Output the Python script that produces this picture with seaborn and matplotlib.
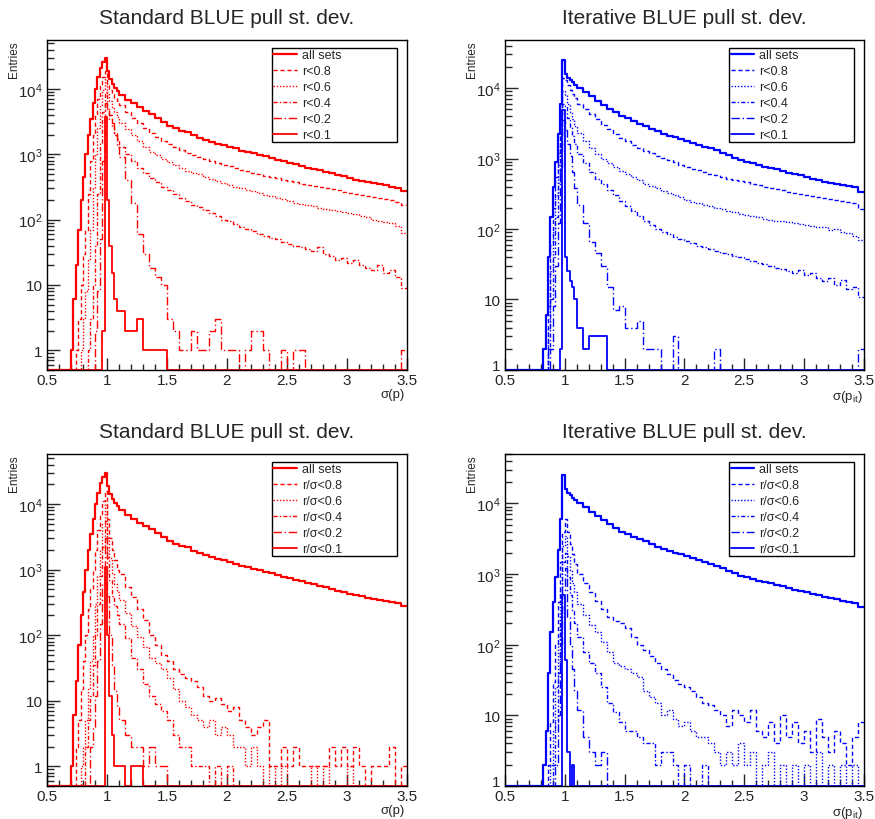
import numpy as np
import seaborn as sns
import matplotlib.pyplot as plt
from matplotlib.lines import Line2D
from matplotlib.ticker import MultipleLocator, LogLocator, FuncFormatter, NullFormatter, FormatStrFormatter

sns.set_style('ticks')
plt.rcParams['font.family'] = ['Liberation Sans', 'DejaVu Sans']
plt.rcParams['mathtext.default'] = 'regular'
plt.rcParams['xtick.top'] = False
plt.rcParams['ytick.right'] = False

# bins: one empty bin below 0.7, 0.02 wide around the peak, 0.05 wide in the tail
bin_edges = np.round(np.concatenate([[0.5], np.linspace(0.70, 1.08, 20), np.linspace(1.10, 3.50, 49)]), 3)

labels_r = ['all sets', 'r<0.8', 'r<0.6', 'r<0.4', 'r<0.2', 'r<0.1']
labels_rs = ['all sets', 'r/σ<0.8', 'r/σ<0.6', 'r/σ<0.4', 'r/σ<0.2', 'r/σ<0.1']

# entries per bin (first value = 0.5-0.7 bin)
std_all = [0] + [1, 6, 20, 70, 200, 450, 1000, 2000, 3500, 6000, 10000, 15000, 21000, 26000, 30000, 19000, 14000, 12000, 10500, 9300] + \
    [8000, 6800, 6000, 5200, 4600, 4100, 3600, 3100, 2750, 2500, 2300, 2200, 1950, 1800, 1680, 1560, 1450, 1380,
     1300, 1230, 1130, 1080, 1040, 990, 930, 880, 830, 780, 740, 700, 660, 620, 600, 570, 540, 510, 480, 460,
     430, 410, 390, 375, 360, 345, 335, 320, 305, 275]
std_r08 = [0] + [0, 0, 1, 3, 10, 30, 70, 250, 800, 2000, 4000, 7000, 11000, 15000, 19000, 12000, 9500, 8300, 7300, 6500] + \
    [5600, 4500, 3600, 3000, 2500, 2150, 1850, 1600, 1450, 1300, 1170, 1060, 980, 900, 840, 780, 730, 680,
     650, 610, 580, 550, 520, 500, 470, 450, 430, 410, 390, 370, 355, 340, 325, 310, 300, 290, 280, 268,
     258, 248, 238, 230, 220, 212, 205, 198, 185, 165]
std_r06 = [0] + [0, 0, 0, 0, 1, 3, 8, 25, 70, 300, 1000, 2500, 5500, 9500, 14000, 8500, 6500, 5300, 4400, 3700] + \
    [3000, 2400, 1950, 1600, 1300, 1100, 960, 850, 760, 680, 610, 560, 520, 490, 450, 420, 390, 360,
     340, 320, 300, 285, 270, 255, 240, 228, 215, 205, 192, 182, 175, 170, 160, 152, 145, 140, 135, 132,
     128, 120, 112, 108, 100, 95, 92, 88, 80, 62]
std_r04 = [0] + [0, 0, 0, 0, 0, 0, 0, 1, 3, 10, 40, 250, 1500, 4500, 9000, 5000, 3500, 2700, 2100, 1700] + \
    [1300, 1000, 780, 620, 510, 430, 370, 320, 280, 245, 215, 190, 170, 155, 140, 125, 112, 100,
     94, 85, 78, 72, 66, 60, 57, 52, 50, 46, 43, 40, 38, 35, 33, 38, 30, 28, 24, 26,
     22, 24, 20, 18, 17, 20, 15, 17, 13, 9]
std_r02 = [0] + [0, 0, 0, 0, 0, 0, 0, 0, 0, 0, 2, 8, 50, 800, 6000, 5000, 4000, 3000, 2000, 1300] + \
    [900, 400, 180, 60, 30, 18, 13, 10, 3, 2, 1, 1, 2, 1, 1, 2, 3, 1,
     1, 1, 0, 1, 2, 2, 1, 0, 0, 1, 0, 1, 1, 0, 0, 0, 0, 0, 0, 0,
     0, 0, 0, 0, 0, 0, 0, 0, 0, 1]
std_r01 = [0] + [0, 0, 0, 0, 0, 0, 0, 0, 0, 0, 0, 0, 0, 2, 3700, 200, 40, 15, 6, 4] + \
    [4, 2, 2, 3, 1, 1, 1, 1] + [0] * 40

it_all = [0] + [0, 0, 0, 0, 0, 0, 2, 6, 40, 150, 400, 900, 2200, 6000, 25000, 16000, 14000, 13000, 12000, 11000] + \
    [10000, 8800, 7600, 6600, 5800, 5100, 4500, 4000, 3700, 3400, 3100, 2900, 2650, 2450, 2250, 2100, 2000, 1900,
     1800, 1680, 1580, 1480, 1400, 1300, 1200, 1120, 1020, 950, 900, 850, 800, 770, 740, 700, 670, 630, 600, 575,
     550, 520, 500, 470, 455, 440, 420, 405, 390, 340]
it_r08 = [0] + [0, 0, 0, 0, 0, 0, 0, 1, 8, 60, 200, 550, 1200, 4000, 14000, 13000, 11000, 9500, 8200, 7200] + \
    [6000, 5000, 4300, 3600, 3000, 2600, 2250, 1950, 1750, 1550, 1400, 1280, 1180, 1100, 1020, 950, 880, 820,
     770, 720, 680, 640, 610, 580, 550, 520, 500, 480, 460, 440, 420, 400, 385, 370, 355, 340, 325, 315,
     305, 295, 285, 275, 268, 260, 250, 240, 230, 195]
it_r06 = [0] + [0, 0, 0, 0, 0, 0, 0, 1, 4, 25, 90, 300, 800, 2500, 9000, 8000, 6000, 4600, 3600, 2900] + \
    [2300, 1750, 1400, 1150, 980, 850, 750, 660, 600, 540, 490, 440, 410, 380, 350, 320, 300, 280,
     262, 245, 232, 220, 210, 200, 190, 180, 172, 165, 160, 155, 148, 140, 135, 130, 130, 125, 120, 118,
     115, 110, 108, 105, 98, 100, 92, 88, 80, 70]
it_r04 = [0] + [0, 0, 0, 0, 0, 0, 0, 0, 2, 10, 40, 150, 450, 1500, 6000, 5500, 3800, 2800, 2100, 1600] + \
    [1150, 850, 650, 520, 430, 360, 300, 250, 210, 180, 155, 130, 115, 100, 92, 85, 78, 72,
     68, 64, 58, 55, 52, 48, 46, 44, 42, 40, 38, 35, 33, 32, 30, 28, 27, 25, 24, 26,
     22, 24, 20, 18, 20, 16, 19, 14, 15, 11]
it_r02 = [0] + [0, 0, 0, 0, 0, 0, 0, 0, 0, 2, 8, 30, 120, 700, 3500, 2500, 1600, 1100, 650, 380] + \
    [220, 120, 65, 45, 30, 15, 7, 8, 4, 4, 5, 2, 2, 2, 0, 0, 3, 0,
     0, 0, 0, 0, 0, 2, 0, 0, 0, 0, 0, 0, 0, 0, 0, 0, 0, 0, 0, 0,
     0, 0, 0, 0, 0, 0, 0, 0, 0, 2]
it_r01 = [0] + [0, 0, 0, 0, 0, 0, 0, 0, 0, 0, 0, 0, 0, 2, 4800, 40, 25, 18, 15, 10] + \
    [4, 2, 3, 3, 3, 0, 0, 0] + [0] * 40

std_s08 = [0] + [0, 0, 2, 5, 15, 40, 100, 250, 500, 1000, 2000, 4000, 7000, 11000, 16000, 6000, 3000, 2000, 1400, 1000] + \
    [850, 550, 380, 250, 170, 100, 70, 50, 40, 30, 26, 22, 20, 16, 12, 10, 11, 9,
     7, 8, 5, 4, 3, 4, 5, 1, 1, 2, 1, 2, 1, 1, 1, 1, 1, 2, 1, 2,
     1, 2, 1, 0, 1, 1, 1, 2, 0, 1]
std_s06 = [0] + [0, 0, 0, 0, 1, 2, 5, 15, 40, 100, 300, 800, 2000, 5000, 10000, 3000, 1500, 900, 600, 450] + \
    [350, 220, 140, 95, 65, 45, 38, 30, 22, 15, 10, 8, 6, 5, 4, 5, 3, 4,
     3, 2, 2, 1, 2, 1, 0, 1, 0, 1, 0, 0, 0, 0, 1, 0, 1, 0, 0, 0,
     1, 0, 0, 0, 0, 0, 0, 0, 0, 0]
std_s04 = [0] + [0, 0, 0, 0, 0, 0, 2, 5, 12, 35, 100, 300, 800, 2200, 5500, 1500, 700, 400, 280, 200] + \
    [150, 90, 45, 30, 18, 12, 9, 7, 5, 3, 2, 2, 1, 1, 1, 0, 1, 0,
     1] + [0] * 29
std_s02 = [0] + [0, 0, 0, 0, 0, 0, 0, 0, 2, 4, 12, 40, 150, 600, 3000, 400, 100, 35, 14, 8] + \
    [5, 3, 2, 2, 1, 2, 1, 1] + [0] * 40
std_s01 = [0] + [0, 0, 0, 0, 0, 0, 0, 0, 0, 0, 0, 0, 0, 0, 1100, 100, 12, 3, 1, 1] + \
    [1, 0, 1, 1] + [0] * 44

it_s08 = [0] + [0, 0, 0, 0, 0, 0, 0, 0, 2, 8, 30, 100, 400, 1500, 4000, 6000, 4000, 2700, 1900, 1400] + \
    [1000, 750, 550, 420, 320, 250, 220, 200, 170, 130, 100, 85, 70, 55, 45, 38, 32, 28,
     25, 22, 18, 15, 14, 12, 10, 7, 12, 10, 8, 12, 6, 5, 8, 4, 10, 5, 8, 4,
     6, 3, 9, 5, 3, 6, 4, 2, 5, 8]
it_s06 = [0] + [0, 0, 0, 0, 0, 0, 0, 0, 0, 2, 6, 25, 120, 600, 2500, 3500, 1800, 1100, 750, 550] + \
    [380, 260, 190, 150, 110, 80, 55, 50, 45, 40, 35, 22, 18, 15, 10, 12, 9, 7,
     8, 6, 5, 5, 4, 3, 2, 3, 2, 4, 2, 3, 1, 2, 3, 1, 2, 1, 2, 1,
     2, 1, 3, 1, 2, 1, 2, 1, 2, 1]
it_s04 = [0] + [0, 0, 0, 0, 0, 0, 0, 0, 0, 0, 2, 8, 40, 250, 1500, 2000, 900, 500, 300, 200] + \
    [130, 80, 55, 40, 25, 15, 11, 8, 6, 6, 5, 4, 4, 2, 3, 3, 2, 1,
     2, 1, 1, 2, 0, 1] + [0] * 24
it_s02 = [0] + [0, 0, 0, 0, 0, 0, 0, 0, 0, 0, 0, 2, 10, 80, 600, 1200, 250, 100, 45, 22] + \
    [12, 5, 3, 2, 3, 1, 0, 0] + [0] * 40
it_s01 = [0] + [0, 0, 0, 0, 0, 0, 0, 0, 0, 0, 0, 0, 0, 0, 500, 60, 3, 1, 2, 1] + \
    [1] + [0] * 47

line_styles = [('-', 1.6), ((0, (3, 2)), 1.0), ((0, (1, 1.3)), 1.0),
               ((0, (3, 1.5, 1, 1.5)), 1.0), ((0, (6, 2, 1, 2)), 1.0), ('-', 1.3)]

fig = plt.figure(figsize=(8.75, 8.2), dpi=100)
panels = [
    ([0.0537, 0.5476, 0.4114, 0.4024], 'Standard BLUE pull st. dev.', 'σ(p)', '#ff0000', 0.5, 5.6e4,
     labels_r, [std_all, std_r08, std_r06, std_r04, std_r02, std_r01]),
    ([0.5771, 0.5476, 0.4103, 0.4024], 'Iterative BLUE pull st. dev.', 'σ(p$_{it}$)', '#0000ff', 1, 4.8e4,
     labels_r, [it_all, it_r08, it_r06, it_r04, it_r02, it_r01]),
    ([0.0537, 0.0402, 0.4114, 0.4049], 'Standard BLUE pull st. dev.', 'σ(p)', '#ff0000', 0.5, 5.8e4,
     labels_rs, [std_all, std_s08, std_s06, std_s04, std_s02, std_s01]),
    ([0.5771, 0.0402, 0.4103, 0.4049], 'Iterative BLUE pull st. dev.', 'σ(p$_{it}$)', '#0000ff', 1, 5.0e4,
     labels_rs, [it_all, it_s08, it_s06, it_s04, it_s02, it_s01]),
]


def log_label(v, pos):
    if v == 1:
        return '1'
    if v == 10:
        return '10'
    return '$10^{%d}$' % round(np.log10(v))


all_axes = []
for rect, title, xlabel, color, ymin, ymax, labels, series in panels:
    ax = fig.add_axes(rect)
    all_axes.append(ax)
    handles = []
    for counts, label, (ls, lw) in zip(series, labels, line_styles):
        assert len(counts) == len(bin_edges) - 1
        shown = np.clip(np.array(counts, dtype=float), ymin, None)
        # histogram outline: value of each bin held until the next edge
        sns.lineplot(x=bin_edges, y=np.append(shown, shown[-1]), drawstyle='steps-post',
                     estimator=None, sort=False, color=color, linestyle=ls, linewidth=lw, ax=ax)
        handles.append(Line2D([], [], color=color, linestyle=ls, linewidth=lw))

    ax.set_yscale('log')
    ax.set_xlim(0.5, 3.5)
    ax.set_ylim(ymin, ymax)
    ax.xaxis.set_ticks_position('bottom')
    ax.yaxis.set_ticks_position('left')
    ax.xaxis.set_major_locator(MultipleLocator(0.5))
    ax.xaxis.set_minor_locator(MultipleLocator(0.1))
    ax.xaxis.set_major_formatter(FormatStrFormatter('%g'))
    ax.yaxis.set_major_locator(LogLocator(base=10))
    ax.yaxis.set_minor_locator(LogLocator(base=10, subs=np.arange(2, 10)))
    ax.yaxis.set_major_formatter(FuncFormatter(log_label))
    ax.yaxis.set_minor_formatter(NullFormatter())
    ax.tick_params(which='both', direction='in', top=False, right=False, width=1, labelsize=11)
    ax.tick_params(axis='x', which='major', length=9, pad=2)
    ax.tick_params(axis='x', which='minor', length=4.5)
    ax.tick_params(axis='y', which='major', length=9, pad=3)
    ax.tick_params(axis='y', which='minor', length=5)
    for sp in ax.spines.values():
        sp.set_color('black')
        sp.set_linewidth(1.0)

    ax.set_title(title, fontsize=15, pad=12)
    ax.set_ylabel('Entries', fontsize=8.5, loc='top')
    ax.yaxis.set_label_coords(-0.074, 1.0)
    ax.set_xlabel(xlabel, fontsize=9.5, loc='right')
    ax.xaxis.set_label_coords(0.995, -0.055)

    leg = ax.legend(handles, labels, loc='upper left', bbox_to_anchor=(0.625, 0.688, 0.347, 0.288),
                    mode='expand', borderaxespad=0, fancybox=False, edgecolor='black', framealpha=1,
                    fontsize=9, handlelength=1.9, handletextpad=0.4, labelspacing=0.32, borderpad=0.1)
    leg.get_frame().set_linewidth(1.0)

# on the iterative panels the "1" label sits on the x axis: lift it onto its baseline
fig.canvas.draw()
for ax in (all_axes[1], all_axes[3]):
    for t in ax.get_yticklabels():
        if t.get_text() == '1':
            t.set_va('baseline')

fig.savefig('out.png', dpi=100)
